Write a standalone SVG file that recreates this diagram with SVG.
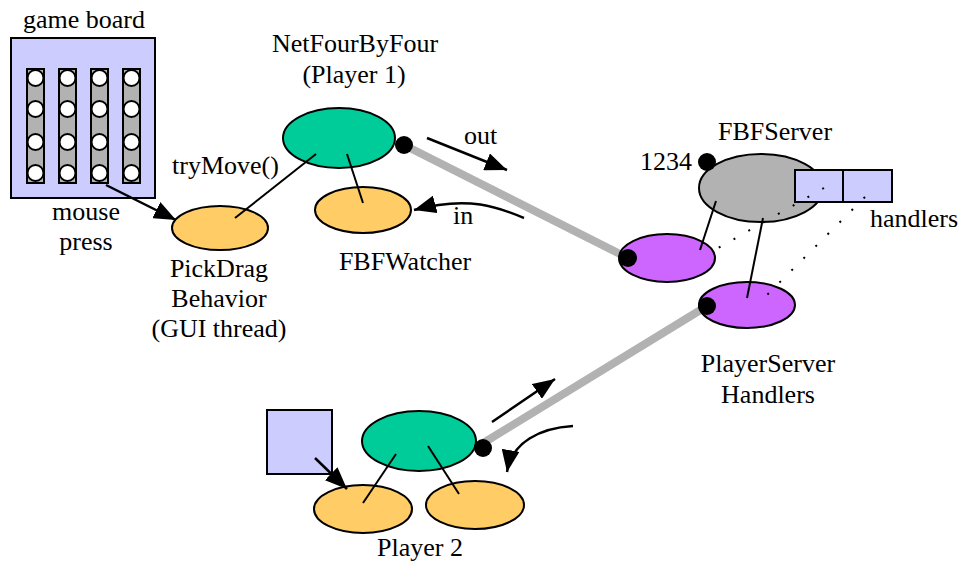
<svg xmlns="http://www.w3.org/2000/svg" width="961" height="564" viewBox="0 0 961 564" font-family="'Liberation Serif', 'Times New Roman', Tinos, 'DejaVu Serif', serif">
  <defs>
    <marker id="arrow" viewBox="0 0 22 18" refX="22" refY="9" markerWidth="22" markerHeight="18" markerUnits="userSpaceOnUse" orient="auto">
      <path d="M0,0 L22,9 L0,18 Z" fill="#000"/>
    </marker>
    <g id="hole">
      <circle r="8" fill="#fff" stroke="#000" stroke-width="2"/>
    </g>
  </defs>
  <style>
    text { font-family: "Liberation Serif", "Times New Roman", Tinos, "DejaVu Serif", serif; font-size: 26px; fill: #000; }
    .mid { text-anchor: middle; }
    .edge { fill: none; stroke: #000; stroke-width: 2; }
    .flow { fill: none; stroke: #000; stroke-width: 2.5; marker-end: url(#arrow); }
    .pipe { fill: none; stroke: #b2b2b2; stroke-width: 8; }
    .dots { fill: none; stroke: #000; stroke-width: 2; stroke-dasharray: 2 15; stroke-linecap: butt; }
    .shape { stroke: #000; stroke-width: 2; }
    .green { fill: #00cc99; }
    .orange { fill: #ffcc66; }
    .purple { fill: #cc66ff; }
    .grey { fill: #b2b2b2; }
    .lilac { fill: #ccccff; }
    .port { fill: #000; }
  </style>

  <!-- socket pipes drawn beneath everything -->
  <g id="pipes">
    <line class="pipe" x1="404" y1="145" x2="628" y2="258"/>
    <line class="pipe" x1="480" y1="445" x2="707" y2="306"/>
  </g>

  <!-- game board -->
  <g id="game-board">
    <text class="mid" x="84" y="28">game board</text>
    <rect class="shape lilac" x="11" y="38" width="144" height="160"/>
    <rect class="shape grey" x="27" y="69" width="17" height="114"/>
    <rect class="shape grey" x="59" y="69" width="17" height="114"/>
    <rect class="shape grey" x="91" y="69" width="17" height="114"/>
    <rect class="shape grey" x="123" y="69" width="17" height="114"/>
    <use href="#hole" x="35.5" y="78"/><use href="#hole" x="35.5" y="109"/><use href="#hole" x="35.5" y="142"/><use href="#hole" x="35.5" y="173"/>
    <use href="#hole" x="67.5" y="78"/><use href="#hole" x="67.5" y="109"/><use href="#hole" x="67.5" y="142"/><use href="#hole" x="67.5" y="173"/>
    <use href="#hole" x="99.5" y="78"/><use href="#hole" x="99.5" y="109"/><use href="#hole" x="99.5" y="142"/><use href="#hole" x="99.5" y="173"/>
    <use href="#hole" x="131.5" y="78"/><use href="#hole" x="131.5" y="109"/><use href="#hole" x="131.5" y="142"/><use href="#hole" x="131.5" y="173"/>
  </g>

  <!-- Player 1 -->
  <g id="netfourbyfour-1">
    <text class="mid" x="355" y="52">NetFourByFour</text>
    <text class="mid" x="354" y="83">(Player 1)</text>
    <ellipse class="shape green" cx="339" cy="138" rx="56" ry="30"/>
    <circle class="port" cx="404" cy="145" r="9"/>
  </g>
  <g id="pickdrag">
    <ellipse class="shape orange" cx="220" cy="228" rx="48" ry="22"/>
    <text x="172" y="174">tryMove()</text>
    <text class="mid" x="86" y="220">mouse</text>
    <text class="mid" x="86" y="250">press</text>
    <text class="mid" x="219" y="277">PickDrag</text>
    <text class="mid" x="219" y="307">Behavior</text>
    <text class="mid" x="219" y="337">(GUI thread)</text>
  </g>
  <g id="fbfwatcher">
    <ellipse class="shape orange" cx="363" cy="210" rx="48" ry="23"/>
    <text class="mid" x="405" y="270">FBFWatcher</text>
  </g>
  <g id="labels-io">
    <text x="464" y="144">out</text>
    <text x="453" y="224">in</text>
  </g>

  <!-- server -->
  <g id="fbfserver">
    <text class="mid" x="775" y="140">FBFServer</text>
    <text x="640" y="170">1234</text>
    <ellipse class="shape grey" cx="761" cy="188" rx="62" ry="34"/>
    <circle class="port" cx="707" cy="162" r="9"/>
  </g>
  <g id="handlers">
    <rect class="shape lilac" x="795" y="170" width="48" height="32"/>
    <rect class="shape lilac" x="843" y="170" width="49" height="32"/>
    <text x="870" y="227">handlers</text>
  </g>
  <g id="handler-1">
    <ellipse class="shape purple" cx="667" cy="258" rx="48" ry="24"/>
    <circle class="port" cx="628" cy="258" r="9"/>
  </g>
  <g id="handler-2">
    <ellipse class="shape purple" cx="747" cy="305" rx="48" ry="23"/>
    <circle class="port" cx="707" cy="306" r="9"/>
    <text class="mid" x="768" y="372">PlayerServer</text>
    <text class="mid" x="768" y="403">Handlers</text>
  </g>

  <!-- Player 2 -->
  <g id="player-2">
    <rect class="shape lilac" x="267" y="410" width="65" height="64"/>
    <ellipse class="shape green" cx="419" cy="441" rx="57" ry="30"/>
    <circle class="port" cx="483" cy="448" r="9"/>
    <ellipse class="shape orange" cx="363" cy="509" rx="49" ry="24"/>
    <ellipse class="shape orange" cx="475" cy="505" rx="49" ry="24"/>
    <text class="mid" x="420" y="556">Player 2</text>
  </g>

  <!-- connectors, drawn over the nodes -->
  <g id="connectors">
    <line class="edge" x1="316" y1="154" x2="235" y2="218"/>
    <line class="edge" x1="347" y1="154" x2="363" y2="203"/>
    <line class="edge" x1="716" y1="201" x2="700" y2="250"/>
    <line class="edge" x1="763" y1="218" x2="747" y2="298"/>
    <line class="edge" x1="396" y1="454" x2="363" y2="503"/>
    <line class="edge" x1="428" y1="446" x2="459" y2="494"/>
    <line class="dots" x1="824" y1="188" x2="713" y2="251"/>
    <line class="dots" x1="865" y1="197" x2="764" y2="298"/>
    <line class="flow" x1="106" y1="185" x2="176" y2="220"/>
    <line class="flow" x1="427" y1="138" x2="507" y2="170"/>
    <path class="flow" d="M524,218 C500,208 470,195 414,210"/>
    <line class="flow" x1="492" y1="422" x2="555" y2="379"/>
    <path class="flow" d="M573,426 C540,428 512,442 507,472"/>
    <line class="flow" x1="315" y1="458" x2="347" y2="489"/>
  </g>
</svg>
